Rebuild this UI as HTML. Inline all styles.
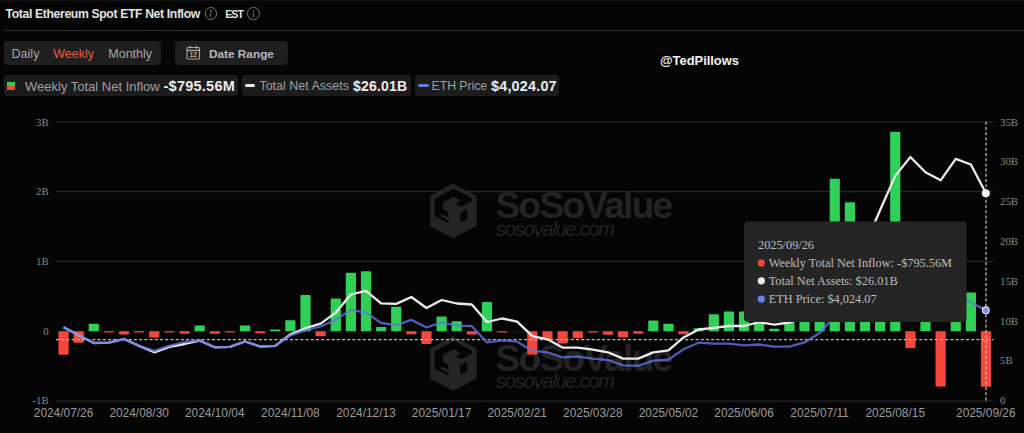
<!DOCTYPE html>
<html><head><meta charset="utf-8">
<style>
html,body{margin:0;padding:0;background:#050505;}
body{width:1024px;height:433px;overflow:hidden;background:#050505;position:relative;font-family:"Liberation Sans",sans-serif;}
.abs{position:absolute;white-space:nowrap;}
.title{left:5.5px;top:6.4px;font-size:12.2px;letter-spacing:-0.35px;font-weight:bold;color:#e2e2e2;line-height:17px;}
.info{position:absolute;width:10.5px;height:10.5px;border:1.1px solid #727272;border-radius:50%;}
.info::after{content:"";position:absolute;left:4.6px;top:4.2px;width:1.3px;height:4.5px;background:#727272;}
.info::before{content:"";position:absolute;left:4.5px;top:1.8px;width:1.5px;height:1.5px;background:#727272;border-radius:50%;}
.est{left:225.2px;top:5.5px;font-size:10.5px;font-weight:bold;color:#e2e2e2;line-height:17px;letter-spacing:-0.9px;}
.divider{left:4px;top:30px;width:1020px;height:1px;background:#2c2c2c;}
.seg{left:4px;top:41px;width:156.5px;height:23.5px;background:#1f1f1f;border-radius:4px;}
.segt{top:41.8px;line-height:24px;font-size:12.5px;color:#a8a8a8;}
.btn{left:175px;top:41px;width:112.7px;height:23.6px;background:#1f1f1f;border-radius:4px;}
.lg{top:75px;height:20.6px;background:#1c1c1c;border-radius:3px;}
.lgt{top:75.5px;line-height:21px;font-size:12.8px;color:#a0a0a0;}
.lgv{top:75.5px;line-height:21px;font-size:14.5px;font-weight:bold;color:#ececec;}
svg text.ax{font-family:"Liberation Serif",serif;font-size:10.8px;fill:#8a8a8a;}
svg text.xl{font-family:"Liberation Sans",sans-serif;font-size:11.9px;fill:#9a9a9a;}
svg text.tt{font-family:"Liberation Serif",serif;font-size:12.3px;fill:#bdbdbd;}
svg text.wm1{font-family:"Liberation Sans",sans-serif;font-size:37px;font-weight:bold;fill:#232323;letter-spacing:-1.7px;}
svg text.wm2{font-family:"Liberation Sans",sans-serif;font-size:20px;font-style:italic;fill:#232323;letter-spacing:-1.2px;}
#wrap{position:absolute;left:0;top:0;width:1024px;height:433px;background:#050505;}
</style></head><body><div id="wrap">
<div class="abs" style="left:0;top:0;width:1024px;height:1.2px;background:#121212;"></div>
<div class="abs title">Total Ethereum Spot ETF Net Inflow</div>
<div class="info" style="left:204.5px;top:7.4px;"></div>
<div class="abs est">EST</div>
<div class="info" style="left:247.3px;top:7.4px;"></div>
<div class="abs divider"></div>
<div class="abs seg"></div>
<div class="abs segt" style="left:11.6px;">Daily</div>
<div class="abs segt" style="left:53.3px;color:#ec5a3f;">Weekly</div>
<div class="abs segt" style="left:108.3px;">Monthly</div>
<div class="abs btn"></div>
<svg class="abs" style="left:186px;top:45px;" width="15" height="15" viewBox="0 0 15 15">
<rect x="1" y="2.5" width="12.5" height="11.5" rx="1" fill="none" stroke="#a8a8a8" stroke-width="1.1"/>
<line x1="1" y1="5.4" x2="13.5" y2="5.4" stroke="#a8a8a8" stroke-width="1.4"/>
<line x1="4" y1="0.8" x2="4" y2="3.5" stroke="#a8a8a8" stroke-width="1.2"/>
<line x1="10.5" y1="0.8" x2="10.5" y2="3.5" stroke="#a8a8a8" stroke-width="1.2"/>
<text x="7.3" y="12.4" text-anchor="middle" font-family="Liberation Sans" font-weight="bold" font-size="7" fill="#a8a8a8">12</text>
</svg>
<div class="abs segt" style="left:209px;top:42.3px;font-weight:bold;font-size:11.8px;color:#b8b8b8;">Date Range</div>
<div class="abs lg" style="left:4.3px;width:233.7px;"></div>
<div class="abs" style="left:7.2px;top:81.8px;width:7.7px;height:3.9px;background:#30cf58;"></div>
<div class="abs" style="left:7.2px;top:85.7px;width:7.7px;height:3.9px;background:#f5483b;"></div>
<div class="abs lgt" style="left:25px;font-size:13px;">Weekly Total Net Inflow</div>
<div class="abs lgv" style="left:163.5px;letter-spacing:0.25px;">-$795.56M</div>
<div class="abs lg" style="left:242.2px;width:168.8px;"></div>
<div class="abs" style="left:245.2px;top:84px;width:10.3px;height:3.2px;background:#ececec;border-radius:1.6px;"></div>
<div class="abs lgt" style="left:259.4px;font-size:12.5px;">Total Net Assets</div>
<div class="abs lgv" style="left:353px;font-size:14px;letter-spacing:0.2px;">$26.01B</div>
<div class="abs lg" style="left:414.8px;width:144.6px;"></div>
<div class="abs" style="left:418.3px;top:84px;width:10.3px;height:3.2px;background:#6a7be6;border-radius:1.6px;"></div>
<div class="abs lgt" style="left:431.6px;font-size:12.2px;">ETH Price</div>
<div class="abs lgv" style="left:491px;font-size:14.4px;letter-spacing:0.2px;">$4,024.07</div>
<div class="abs" style="left:660px;top:51.6px;font-size:12.9px;font-weight:bold;color:#f4f4f4;line-height:17px;">@TedPillows</div>
<svg class="abs" style="left:0;top:0;" width="1024" height="433" viewBox="0 0 1024 433">
<line x1="56" y1="121.8" x2="993.5" y2="121.8" stroke="#272727" stroke-width="1.3"/>
<line x1="56" y1="191.6" x2="993.5" y2="191.6" stroke="#272727" stroke-width="1.3"/>
<line x1="56" y1="261.4" x2="993.5" y2="261.4" stroke="#272727" stroke-width="1.3"/>
<line x1="56" y1="401.2" x2="993.5" y2="401.2" stroke="#272727" stroke-width="1.3"/>
<text x="48.6" y="125.6" text-anchor="end" class="ax">3B</text>
<text x="48.6" y="195.4" text-anchor="end" class="ax">2B</text>
<text x="48.6" y="265.2" text-anchor="end" class="ax">1B</text>
<text x="48.6" y="335.0" text-anchor="end" class="ax">0</text>
<text x="48.6" y="404.3" text-anchor="end" class="ax">-1B</text>
<text x="1000" y="404.3" class="ax">0</text>
<text x="1000" y="364.485" class="ax">5B</text>
<text x="1000" y="324.67" class="ax">10B</text>
<text x="1000" y="284.855" class="ax">15B</text>
<text x="1000" y="245.04000000000002" class="ax">20B</text>
<text x="1000" y="205.22500000000002" class="ax">25B</text>
<text x="1000" y="165.41" class="ax">30B</text>
<text x="1000" y="125.59500000000001" class="ax">35B</text>
<g transform="translate(0,0)"><polygon points="452.97,183.58 476.54,196.06 476.54,225.88 452.97,238.37 430.08,225.88 430.08,196.06" fill="#242424"/><polygon points="434.66,198.84 453.66,188.43 472.11,198.42 472.11,200.92 461.29,206.74 455.74,203.69 461.29,200.92 453.66,196.76 442.98,202.58 442.98,209.24 448.11,212.29 448.11,223.11 434.66,215.90" fill="#050505"/><polygon points="441.18,213.68 448.11,217.28 448.11,220.33 441.18,216.73" fill="#242424"/><polygon points="460.18,212.71 467.11,208.96 467.11,218.67 460.18,222.42" fill="#050505"/><text x="495.5" y="218" class="wm1">SoSoValue</text><text x="496" y="235.5" class="wm2">sosovalue.com</text></g>
<g transform="translate(0,152.5)"><polygon points="452.97,183.58 476.54,196.06 476.54,225.88 452.97,238.37 430.08,225.88 430.08,196.06" fill="#242424"/><polygon points="434.66,198.84 453.66,188.43 472.11,198.42 472.11,200.92 461.29,206.74 455.74,203.69 461.29,200.92 453.66,196.76 442.98,202.58 442.98,209.24 448.11,212.29 448.11,223.11 434.66,215.90" fill="#050505"/><polygon points="441.18,213.68 448.11,217.28 448.11,220.33 441.18,216.73" fill="#242424"/><polygon points="460.18,212.71 467.11,208.96 467.11,218.67 460.18,222.42" fill="#050505"/><text x="495.5" y="218" class="wm1">SoSoValue</text><text x="496" y="235.5" class="wm2">sosovalue.com</text></g>
<line x1="56" y1="331.2" x2="993.5" y2="331.2" stroke="#1e1414" stroke-width="1"/>
<rect x="58.45" y="331.20" width="10.2" height="23.52" fill="#f5483b" rx="0.8"/>
<rect x="73.57" y="331.20" width="10.2" height="11.52" fill="#f5483b" rx="0.8"/>
<rect x="88.69" y="323.73" width="10.2" height="7.47" fill="#30cf58" rx="0.8"/>
<rect x="103.82" y="331.20" width="10.2" height="1.20" fill="#f5483b" rx="0.8"/>
<rect x="118.94" y="331.20" width="10.2" height="3.21" fill="#f5483b" rx="0.8"/>
<rect x="134.06" y="331.20" width="10.2" height="1.20" fill="#f5483b" rx="0.8"/>
<rect x="149.18" y="331.20" width="10.2" height="6.42" fill="#f5483b" rx="0.8"/>
<rect x="164.30" y="331.20" width="10.2" height="1.20" fill="#f5483b" rx="0.8"/>
<rect x="179.43" y="331.20" width="10.2" height="2.51" fill="#f5483b" rx="0.8"/>
<rect x="194.55" y="325.62" width="10.2" height="5.58" fill="#30cf58" rx="0.8"/>
<rect x="209.67" y="331.20" width="10.2" height="2.51" fill="#f5483b" rx="0.8"/>
<rect x="224.79" y="331.20" width="10.2" height="1.20" fill="#f5483b" rx="0.8"/>
<rect x="239.91" y="325.62" width="10.2" height="5.58" fill="#30cf58" rx="0.8"/>
<rect x="255.04" y="331.20" width="10.2" height="2.09" fill="#f5483b" rx="0.8"/>
<rect x="270.16" y="329.45" width="10.2" height="1.75" fill="#30cf58" rx="0.8"/>
<rect x="285.28" y="320.17" width="10.2" height="11.03" fill="#30cf58" rx="0.8"/>
<rect x="300.40" y="294.97" width="10.2" height="36.23" fill="#30cf58" rx="0.8"/>
<rect x="315.52" y="331.20" width="10.2" height="5.03" fill="#f5483b" rx="0.8"/>
<rect x="330.65" y="298.60" width="10.2" height="32.60" fill="#30cf58" rx="0.8"/>
<rect x="345.77" y="272.71" width="10.2" height="58.49" fill="#30cf58" rx="0.8"/>
<rect x="360.89" y="271.17" width="10.2" height="60.03" fill="#30cf58" rx="0.8"/>
<rect x="376.01" y="327.01" width="10.2" height="4.19" fill="#30cf58" rx="0.8"/>
<rect x="391.13" y="306.77" width="10.2" height="24.43" fill="#30cf58" rx="0.8"/>
<rect x="406.26" y="331.20" width="10.2" height="3.00" fill="#f5483b" rx="0.8"/>
<rect x="421.38" y="331.20" width="10.2" height="12.70" fill="#f5483b" rx="0.8"/>
<rect x="436.50" y="316.40" width="10.2" height="14.80" fill="#30cf58" rx="0.8"/>
<rect x="451.62" y="321.22" width="10.2" height="9.98" fill="#30cf58" rx="0.8"/>
<rect x="466.74" y="331.20" width="10.2" height="3.28" fill="#f5483b" rx="0.8"/>
<rect x="481.87" y="302.02" width="10.2" height="29.18" fill="#30cf58" rx="0.8"/>
<rect x="496.99" y="331.20" width="10.2" height="1.20" fill="#f5483b" rx="0.8"/>
<rect x="527.23" y="331.20" width="10.2" height="23.31" fill="#f5483b" rx="0.8"/>
<rect x="542.35" y="331.20" width="10.2" height="8.72" fill="#f5483b" rx="0.8"/>
<rect x="557.48" y="331.20" width="10.2" height="12.42" fill="#f5483b" rx="0.8"/>
<rect x="572.60" y="331.20" width="10.2" height="6.98" fill="#f5483b" rx="0.8"/>
<rect x="587.72" y="331.20" width="10.2" height="1.20" fill="#f5483b" rx="0.8"/>
<rect x="602.84" y="331.20" width="10.2" height="3.49" fill="#f5483b" rx="0.8"/>
<rect x="617.96" y="331.20" width="10.2" height="6.21" fill="#f5483b" rx="0.8"/>
<rect x="633.09" y="331.20" width="10.2" height="2.51" fill="#f5483b" rx="0.8"/>
<rect x="648.21" y="320.59" width="10.2" height="10.61" fill="#30cf58" rx="0.8"/>
<rect x="663.33" y="323.73" width="10.2" height="7.47" fill="#30cf58" rx="0.8"/>
<rect x="678.45" y="331.20" width="10.2" height="3.07" fill="#f5483b" rx="0.8"/>
<rect x="693.57" y="328.27" width="10.2" height="2.93" fill="#30cf58" rx="0.8"/>
<rect x="708.70" y="314.31" width="10.2" height="16.89" fill="#30cf58" rx="0.8"/>
<rect x="723.82" y="311.38" width="10.2" height="19.82" fill="#30cf58" rx="0.8"/>
<rect x="738.94" y="311.38" width="10.2" height="19.82" fill="#30cf58" rx="0.8"/>
<rect x="754.06" y="310.26" width="10.2" height="20.94" fill="#30cf58" rx="0.8"/>
<rect x="769.18" y="328.69" width="10.2" height="2.51" fill="#30cf58" rx="0.8"/>
<rect x="784.31" y="289.32" width="10.2" height="41.88" fill="#30cf58" rx="0.8"/>
<rect x="799.43" y="296.30" width="10.2" height="34.90" fill="#30cf58" rx="0.8"/>
<rect x="814.55" y="303.28" width="10.2" height="27.92" fill="#30cf58" rx="0.8"/>
<rect x="829.67" y="178.69" width="10.2" height="152.51" fill="#30cf58" rx="0.8"/>
<rect x="844.79" y="202.21" width="10.2" height="128.99" fill="#30cf58" rx="0.8"/>
<rect x="859.92" y="268.38" width="10.2" height="62.82" fill="#30cf58" rx="0.8"/>
<rect x="875.04" y="282.34" width="10.2" height="48.86" fill="#30cf58" rx="0.8"/>
<rect x="890.16" y="131.78" width="10.2" height="199.42" fill="#30cf58" rx="0.8"/>
<rect x="905.28" y="331.20" width="10.2" height="16.75" fill="#f5483b" rx="0.8"/>
<rect x="920.40" y="261.40" width="10.2" height="69.80" fill="#30cf58" rx="0.8"/>
<rect x="935.53" y="331.20" width="10.2" height="55.28" fill="#f5483b" rx="0.8"/>
<rect x="950.65" y="296.30" width="10.2" height="34.90" fill="#30cf58" rx="0.8"/>
<rect x="965.77" y="292.53" width="10.2" height="38.67" fill="#30cf58" rx="0.8"/>
<rect x="980.89" y="331.20" width="10.2" height="55.56" fill="#f5483b" rx="0.8"/>
<line x1="56" y1="339.6" x2="993.5" y2="339.6" stroke="#b8b8b8" stroke-width="1.3" stroke-dasharray="3 2.2"/>
<line x1="986" y1="121.8" x2="986" y2="401.2" stroke="#b8b8b8" stroke-width="1.3" stroke-dasharray="3 2.2"/>
<polyline points="63.55,327.3 78.67,335.3 93.79,343 108.92,342.6 124.04,339 139.16,345.9 154.28,352.3 169.40,346.9 184.53,344 199.65,340.6 214.77,347.3 229.89,346.9 245.01,341.5 260.14,346.5 275.26,345.9 290.38,334.4 305.50,328.2 320.62,323.6 335.75,312.6 350.87,294.5 365.99,290.8 381.11,303.3 396.23,303.9 411.36,297 426.48,308 441.60,300 456.72,303.5 471.84,304.5 486.97,322 502.09,318.5 517.21,321.6 532.33,336.1 547.45,339.3 562.58,347.6 577.70,347.6 592.82,349.6 607.94,352.3 623.06,358.6 638.19,358.6 653.31,352.4 668.43,350.3 683.55,337.4 698.67,329.5 713.80,327.8 728.92,326 744.04,326 759.16,322.2 774.28,324.6 789.41,322.5 804.53,318 819.65,305 834.77,285 849.89,262 865.02,245 880.14,210 895.26,175.9 910.38,157 925.50,172.2 940.63,180.3 955.75,158.8 970.87,164.5 985.99,193.3" fill="none" stroke="#ececec" stroke-width="2.3" stroke-linejoin="round"/>
<polyline points="63.55,327.3 78.67,335.3 93.79,342.8 108.92,342.6 124.04,339 139.16,345.9 154.28,350.8 169.40,345.9 184.53,342 199.65,340.6 214.77,347.3 229.89,346.9 245.01,341.5 260.14,346.5 275.26,345.9 290.38,335.5 305.50,330.3 320.62,326.5 335.75,319.9 350.87,309.9 365.99,312.6 381.11,323 396.23,325.1 411.36,319.9 426.48,327.5 441.60,322.3 456.72,325.7 471.84,326.2 486.97,342.4 502.09,340.3 517.21,341.7 532.33,350.7 547.45,352.3 562.58,357.3 577.70,356.5 592.82,358.6 607.94,360 623.06,365.3 638.19,365.9 653.31,360.7 668.43,359.6 683.55,349.3 698.67,342.7 713.80,343.6 728.92,343.6 744.04,345.4 759.16,344.5 774.28,346.6 789.41,346.6 804.53,342.4 819.65,333 834.77,316 849.89,312 865.02,318 880.14,309.6 895.26,299.7 910.38,291 925.50,301 940.63,303.5 955.75,294.8 970.87,302.5 985.99,310.3" fill="none" stroke="#6272e2" stroke-width="2.3" stroke-linejoin="round" stroke-opacity="0.8"/>
<circle cx="985.8" cy="193.3" r="3.8" fill="#f0f0f0" stroke="#ffffff" stroke-width="0.6"/>
<circle cx="985.8" cy="310.3" r="3.4" fill="#8090f0" stroke="#e6e9ff" stroke-width="1.1"/>
<text x="63.55" y="416.8" text-anchor="middle" class="xl">2024/07/26</text>
<text x="139.16" y="416.8" text-anchor="middle" class="xl">2024/08/30</text>
<text x="214.77" y="416.8" text-anchor="middle" class="xl">2024/10/04</text>
<text x="290.38" y="416.8" text-anchor="middle" class="xl">2024/11/08</text>
<text x="365.99" y="416.8" text-anchor="middle" class="xl">2024/12/13</text>
<text x="441.60" y="416.8" text-anchor="middle" class="xl">2025/01/17</text>
<text x="517.21" y="416.8" text-anchor="middle" class="xl">2025/02/21</text>
<text x="592.82" y="416.8" text-anchor="middle" class="xl">2025/03/28</text>
<text x="668.43" y="416.8" text-anchor="middle" class="xl">2025/05/02</text>
<text x="744.04" y="416.8" text-anchor="middle" class="xl">2025/06/06</text>
<text x="819.65" y="416.8" text-anchor="middle" class="xl">2025/07/11</text>
<text x="895.26" y="416.8" text-anchor="middle" class="xl">2025/08/15</text>
<text x="985.8" y="416.8" text-anchor="middle" class="xl">2025/09/26</text>
<rect x="744" y="221.6" width="222.5" height="100.3" rx="4" fill="#252525"/>
<text x="758" y="248.5" class="tt">2025/09/26</text>
<circle cx="761.3" cy="263.0" r="3.6" fill="#f5483b"/>
<text x="768.7" y="266.8" class="tt">Weekly Total Net Inflow: -$795.56M</text>
<circle cx="761.3" cy="280.8" r="3.6" fill="#eeeeee"/>
<text x="768.7" y="284.6" class="tt">Total Net Assets: $26.01B</text>
<circle cx="761.3" cy="299.09999999999997" r="3.6" fill="#6b7fe8"/>
<text x="768.7" y="302.9" class="tt">ETH Price: $4,024.07</text>
</svg>
</div></body></html>
